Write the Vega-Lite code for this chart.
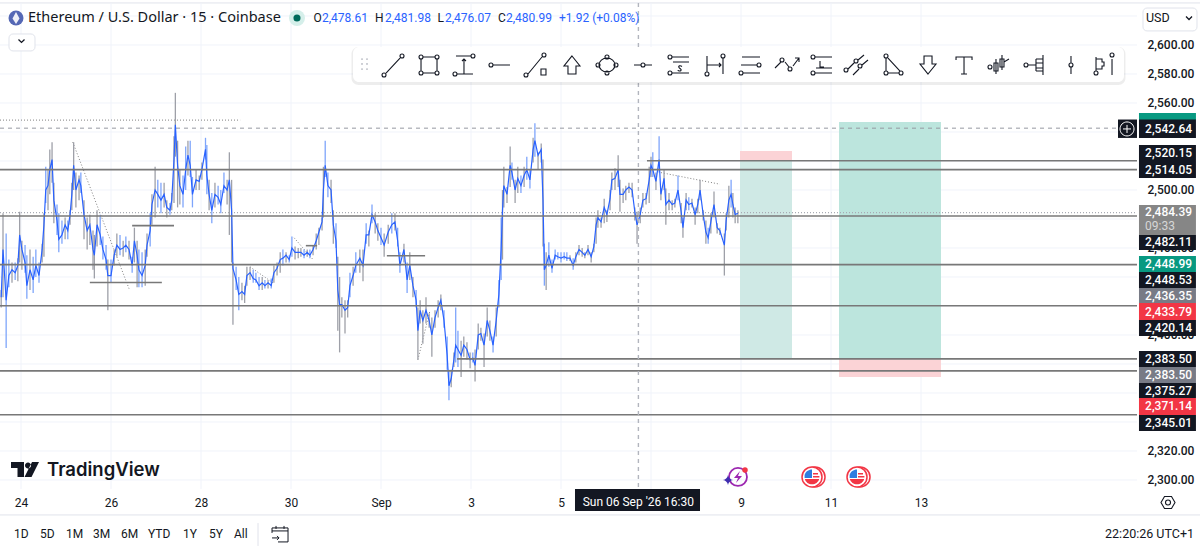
{
"$schema":"https://vega.github.io/schema/vega-lite/v6.json",
"autosize":"none",
"padding":0,
"width":1200,
"height":551,
"background":"#ffffff",
"view":{"stroke":null},
"config":{"text":{"font":"Roboto","color":"#131722"}},
"datasets":{
"candles":[
{"d":23.56,"h":2431,"l":2419,"c":2426},{"d":23.60,"h":2484,"l":2426,"c":2459},{"d":23.67,"h":2470,"l":2391,"c":2424},{"d":23.73,"h":2452,"l":2433,"c":2441},{"d":23.80,"h":2450,"l":2436,"c":2445},{"d":23.87,"h":2450,"l":2438,"c":2443},{"d":23.93,"h":2453,"l":2437,"c":2448},{"d":23.97,"h":2485,"l":2450,"c":2469},{"d":24.02,"h":2465,"l":2445,"c":2459},{"d":24.09,"h":2462,"l":2443,"c":2450},
{"d":24.13,"h":2455,"l":2425,"c":2434},{"d":24.20,"h":2459,"l":2431,"c":2445},{"d":24.27,"h":2454,"l":2429,"c":2438},{"d":24.33,"h":2459,"l":2440,"c":2448},{"d":24.40,"h":2450,"l":2436,"c":2441},{"d":24.47,"h":2463,"l":2450,"c":2459},{"d":24.51,"h":2484,"l":2454,"c":2476},{"d":24.55,"h":2516,"l":2491,"c":2500},{"d":24.60,"h":2514,"l":2486,"c":2503},{"d":24.64,"h":2528,"l":2497,"c":2514},
{"d":24.69,"h":2533,"l":2505,"c":2521},{"d":24.73,"h":2505,"l":2477,"c":2493},{"d":24.80,"h":2490,"l":2469,"c":2479},{"d":24.84,"h":2484,"l":2457,"c":2466},{"d":24.91,"h":2479,"l":2463,"c":2469},{"d":24.98,"h":2481,"l":2466,"c":2476},{"d":25.04,"h":2479,"l":2466,"c":2472},{"d":25.09,"h":2486,"l":2476,"c":2483},{"d":25.13,"h":2505,"l":2486,"c":2497},{"d":25.17,"h":2533,"l":2500,"c":2517},
{"d":25.22,"h":2512,"l":2488,"c":2500},{"d":25.29,"h":2510,"l":2493,"c":2507},{"d":25.33,"h":2512,"l":2498,"c":2503},{"d":25.40,"h":2493,"l":2466,"c":2483},{"d":25.47,"h":2481,"l":2459,"c":2472},{"d":25.53,"h":2483,"l":2462,"c":2476},{"d":25.60,"h":2472,"l":2445,"c":2459},{"d":25.63,"h":2469,"l":2439,"c":2455},{"d":25.69,"h":2486,"l":2461,"c":2476},{"d":25.76,"h":2483,"l":2462,"c":2469},
{"d":25.82,"h":2468,"l":2452,"c":2459},{"d":25.89,"h":2462,"l":2445,"c":2452},{"d":25.93,"h":2452,"l":2417,"c":2441},{"d":26.00,"h":2452,"l":2436,"c":2441},{"d":26.07,"h":2459,"l":2448,"c":2455},{"d":26.13,"h":2470,"l":2454,"c":2462},{"d":26.20,"h":2469,"l":2455,"c":2459},{"d":26.27,"h":2465,"l":2454,"c":2460},{"d":26.33,"h":2468,"l":2457,"c":2462},{"d":26.40,"h":2465,"l":2452,"c":2459},
{"d":26.47,"h":2454,"l":2443,"c":2448},{"d":26.52,"h":2474,"l":2450,"c":2465},{"d":26.58,"h":2465,"l":2433,"c":2455},{"d":26.62,"h":2459,"l":2433,"c":2445},{"d":26.69,"h":2457,"l":2433,"c":2441},{"d":26.76,"h":2459,"l":2434,"c":2448},{"d":26.80,"h":2470,"l":2454,"c":2462},{"d":26.87,"h":2484,"l":2461,"c":2472},{"d":26.91,"h":2497,"l":2476,"c":2490},{"d":26.98,"h":2516,"l":2481,"c":2500},
{"d":27.04,"h":2507,"l":2488,"c":2497},{"d":27.11,"h":2505,"l":2484,"c":2493},{"d":27.18,"h":2505,"l":2488,"c":2497},{"d":27.24,"h":2493,"l":2481,"c":2488},{"d":27.31,"h":2491,"l":2483,"c":2486},{"d":27.35,"h":2498,"l":2486,"c":2493},{"d":27.40,"h":2537,"l":2491,"c":2521},{"d":27.43,"h":2567,"l":2523,"c":2545},{"d":27.48,"h":2534,"l":2488,"c":2517},{"d":27.53,"h":2514,"l":2490,"c":2503},
{"d":27.60,"h":2510,"l":2488,"c":2497},{"d":27.66,"h":2530,"l":2500,"c":2514},{"d":27.71,"h":2534,"l":2510,"c":2524},{"d":27.76,"h":2534,"l":2509,"c":2517},{"d":27.81,"h":2509,"l":2488,"c":2497},{"d":27.89,"h":2514,"l":2500,"c":2507},{"d":27.96,"h":2510,"l":2500,"c":2506},{"d":28.02,"h":2519,"l":2507,"c":2514},{"d":28.10,"h":2536,"l":2521,"c":2528},{"d":28.13,"h":2531,"l":2497,"c":2510},
{"d":28.18,"h":2507,"l":2486,"c":2497},{"d":28.24,"h":2498,"l":2477,"c":2486},{"d":28.31,"h":2505,"l":2488,"c":2497},{"d":28.38,"h":2503,"l":2490,"c":2495},{"d":28.44,"h":2500,"l":2484,"c":2490},{"d":28.51,"h":2512,"l":2498,"c":2503},{"d":28.58,"h":2507,"l":2490,"c":2500},{"d":28.63,"h":2526,"l":2469,"c":2507},{"d":28.68,"h":2507,"l":2450,"c":2486},{"d":28.71,"h":2450,"l":2407,"c":2446},
{"d":28.78,"h":2447,"l":2431,"c":2438},{"d":28.84,"h":2440,"l":2417,"c":2428},{"d":28.91,"h":2436,"l":2424,"c":2430},{"d":28.97,"h":2434,"l":2422,"c":2428},{"d":29.02,"h":2447,"l":2434,"c":2441},{"d":29.09,"h":2447,"l":2438,"c":2443},{"d":29.16,"h":2445,"l":2436,"c":2439},{"d":29.22,"h":2443,"l":2436,"c":2438},{"d":29.29,"h":2440,"l":2431,"c":2434},{"d":29.36,"h":2440,"l":2431,"c":2436},
{"d":29.42,"h":2438,"l":2432,"c":2434},{"d":29.49,"h":2438,"l":2432,"c":2436},{"d":29.56,"h":2439,"l":2432,"c":2434},{"d":29.62,"h":2448,"l":2436,"c":2443},{"d":29.69,"h":2450,"l":2441,"c":2446},{"d":29.76,"h":2457,"l":2443,"c":2452},{"d":29.82,"h":2459,"l":2448,"c":2453},{"d":29.89,"h":2457,"l":2450,"c":2455},{"d":29.96,"h":2455,"l":2450,"c":2452},{"d":30.02,"h":2468,"l":2454,"c":2460},
{"d":30.09,"h":2461,"l":2452,"c":2457},{"d":30.16,"h":2460,"l":2453,"c":2457},{"d":30.22,"h":2460,"l":2454,"c":2457},{"d":30.29,"h":2459,"l":2453,"c":2455},{"d":30.36,"h":2459,"l":2454,"c":2457},{"d":30.42,"h":2459,"l":2453,"c":2455},{"d":30.49,"h":2462,"l":2455,"c":2459},{"d":30.56,"h":2470,"l":2459,"c":2465},{"d":30.62,"h":2474,"l":2462,"c":2471},{"d":30.69,"h":2481,"l":2472,"c":2478},
{"d":30.72,"h":2516,"l":2481,"c":2500},{"d":30.76,"h":2534,"l":2509,"c":2517},{"d":30.82,"h":2512,"l":2495,"c":2503},{"d":30.89,"h":2507,"l":2491,"c":2500},{"d":30.94,"h":2486,"l":2463,"c":2476},{"d":31.00,"h":2477,"l":2460,"c":2465},{"d":31.04,"h":2454,"l":2403,"c":2431},{"d":31.08,"h":2440,"l":2388,"c":2421},{"d":31.13,"h":2426,"l":2412,"c":2421},{"d":31.20,"h":2424,"l":2401,"c":2417},
{"d":31.26,"h":2424,"l":2412,"c":2419},{"d":31.31,"h":2443,"l":2426,"c":2434},{"d":31.38,"h":2447,"l":2434,"c":2441},{"d":31.44,"h":2457,"l":2443,"c":2448},{"d":31.53,"h":2459,"l":2443,"c":2453},{"d":31.60,"h":2459,"l":2437,"c":2448},{"d":31.67,"h":2477,"l":2463,"c":2469},{"d":31.73,"h":2472,"l":2461,"c":2469},{"d":31.80,"h":2490,"l":2477,"c":2483},{"d":31.87,"h":2484,"l":2470,"c":2478},
{"d":31.93,"h":2477,"l":2465,"c":2472},{"d":32.00,"h":2474,"l":2462,"c":2467},{"d":32.07,"h":2470,"l":2454,"c":2462},{"d":32.16,"h":2476,"l":2463,"c":2471},{"d":32.24,"h":2484,"l":2470,"c":2476},{"d":32.31,"h":2484,"l":2472,"c":2478},{"d":32.37,"h":2474,"l":2461,"c":2465},{"d":32.42,"h":2457,"l":2443,"c":2448},{"d":32.51,"h":2463,"l":2450,"c":2459},{"d":32.58,"h":2450,"l":2429,"c":2438},
{"d":32.64,"h":2457,"l":2438,"c":2448},{"d":32.71,"h":2440,"l":2426,"c":2434},{"d":32.78,"h":2431,"l":2419,"c":2424},{"d":32.82,"h":2419,"l":2383,"c":2403},{"d":32.87,"h":2424,"l":2408,"c":2417},{"d":32.93,"h":2417,"l":2394,"c":2410},{"d":33.00,"h":2426,"l":2408,"c":2417},{"d":33.07,"h":2415,"l":2405,"c":2410},{"d":33.13,"h":2412,"l":2385,"c":2400},{"d":33.20,"h":2417,"l":2405,"c":2412},
{"d":33.27,"h":2424,"l":2412,"c":2419},{"d":33.33,"h":2428,"l":2417,"c":2424},{"d":33.40,"h":2417,"l":2405,"c":2410},{"d":33.47,"h":2399,"l":2376,"c":2386},{"d":33.51,"h":2376,"l":2355,"c":2365},{"d":33.56,"h":2376,"l":2364,"c":2370},{"d":33.62,"h":2388,"l":2378,"c":2383},{"d":33.66,"h":2419,"l":2381,"c":2393},{"d":33.71,"h":2403,"l":2378,"c":2390},{"d":33.78,"h":2396,"l":2371,"c":2386},
{"d":33.84,"h":2399,"l":2385,"c":2393},{"d":33.91,"h":2395,"l":2383,"c":2390},{"d":33.98,"h":2388,"l":2377,"c":2383},{"d":34.04,"h":2388,"l":2381,"c":2384},{"d":34.09,"h":2390,"l":2368,"c":2379},{"d":34.16,"h":2408,"l":2390,"c":2400},{"d":34.22,"h":2405,"l":2396,"c":2401},{"d":34.29,"h":2401,"l":2378,"c":2393},{"d":34.36,"h":2419,"l":2399,"c":2410},{"d":34.42,"h":2410,"l":2396,"c":2403},
{"d":34.49,"h":2399,"l":2388,"c":2393},{"d":34.56,"h":2419,"l":2399,"c":2410},{"d":34.62,"h":2438,"l":2419,"c":2428},{"d":34.67,"h":2481,"l":2438,"c":2459},{"d":34.70,"h":2500,"l":2452,"c":2486},{"d":34.73,"h":2516,"l":2488,"c":2503},{"d":34.80,"h":2502,"l":2491,"c":2497},{"d":34.87,"h":2530,"l":2502,"c":2517},{"d":34.91,"h":2519,"l":2507,"c":2512},{"d":34.98,"h":2507,"l":2491,"c":2500},
{"d":35.04,"h":2516,"l":2498,"c":2508},{"d":35.11,"h":2510,"l":2498,"c":2503},{"d":35.18,"h":2516,"l":2502,"c":2510},{"d":35.24,"h":2523,"l":2507,"c":2514},{"d":35.31,"h":2514,"l":2501,"c":2507},{"d":35.38,"h":2536,"l":2519,"c":2528},{"d":35.42,"h":2546,"l":2523,"c":2534},{"d":35.49,"h":2526,"l":2514,"c":2524},{"d":35.56,"h":2532,"l":2519,"c":2528},{"d":35.60,"h":2521,"l":2461,"c":2493},
{"d":35.63,"h":2463,"l":2434,"c":2445},{"d":35.67,"h":2457,"l":2431,"c":2448},{"d":35.73,"h":2464,"l":2447,"c":2455},{"d":35.80,"h":2452,"l":2443,"c":2446},{"d":35.87,"h":2459,"l":2452,"c":2455},{"d":35.93,"h":2457,"l":2452,"c":2454},{"d":36.00,"h":2457,"l":2450,"c":2453},{"d":36.07,"h":2457,"l":2452,"c":2454},{"d":36.13,"h":2457,"l":2451,"c":2453},{"d":36.20,"h":2455,"l":2451,"c":2453},
{"d":36.27,"h":2453,"l":2445,"c":2448},{"d":36.33,"h":2457,"l":2450,"c":2454},{"d":36.40,"h":2462,"l":2455,"c":2459},{"d":36.47,"h":2460,"l":2454,"c":2457},{"d":36.53,"h":2457,"l":2453,"c":2455},{"d":36.60,"h":2462,"l":2455,"c":2459},{"d":36.67,"h":2457,"l":2450,"c":2454},{"d":36.73,"h":2463,"l":2457,"c":2461},{"d":36.78,"h":2481,"l":2463,"c":2476},{"d":36.82,"h":2486,"l":2474,"c":2481},
{"d":36.89,"h":2481,"l":2474,"c":2478},{"d":36.96,"h":2494,"l":2477,"c":2488},{"d":37.02,"h":2486,"l":2478,"c":2483},{"d":37.09,"h":2500,"l":2486,"c":2494},{"d":37.13,"h":2512,"l":2500,"c":2507},{"d":37.20,"h":2515,"l":2500,"c":2508},{"d":37.27,"h":2524,"l":2502,"c":2514},{"d":37.31,"h":2507,"l":2485,"c":2497},{"d":37.38,"h":2501,"l":2491,"c":2497},{"d":37.44,"h":2503,"l":2493,"c":2500},
{"d":37.51,"h":2505,"l":2498,"c":2502},{"d":37.58,"h":2505,"l":2495,"c":2500},{"d":37.64,"h":2488,"l":2479,"c":2485},{"d":37.69,"h":2485,"l":2463,"c":2476},{"d":37.76,"h":2488,"l":2477,"c":2483},{"d":37.82,"h":2498,"l":2488,"c":2493},{"d":37.89,"h":2498,"l":2490,"c":2494},{"d":37.96,"h":2516,"l":2491,"c":2507},{"d":38.00,"h":2523,"l":2509,"c":2517},{"d":38.04,"h":2526,"l":2509,"c":2514},
{"d":38.11,"h":2512,"l":2500,"c":2506},{"d":38.18,"h":2537,"l":2512,"c":2521},{"d":38.22,"h":2501,"l":2493,"c":2497},{"d":38.29,"h":2514,"l":2500,"c":2508},{"d":38.33,"h":2501,"l":2476,"c":2490},{"d":38.40,"h":2498,"l":2486,"c":2493},{"d":38.47,"h":2493,"l":2486,"c":2490},{"d":38.53,"h":2494,"l":2488,"c":2491},{"d":38.60,"h":2510,"l":2493,"c":2500},{"d":38.67,"h":2491,"l":2477,"c":2485},
{"d":38.71,"h":2481,"l":2467,"c":2474},{"d":38.78,"h":2498,"l":2486,"c":2493},{"d":38.84,"h":2495,"l":2486,"c":2490},{"d":38.91,"h":2494,"l":2488,"c":2491},{"d":38.98,"h":2488,"l":2476,"c":2483},{"d":39.04,"h":2494,"l":2484,"c":2490},{"d":39.09,"h":2507,"l":2493,"c":2500},{"d":39.16,"h":2486,"l":2479,"c":2483},{"d":39.22,"h":2479,"l":2463,"c":2471},{"d":39.27,"h":2474,"l":2463,"c":2467},
{"d":39.33,"h":2484,"l":2470,"c":2478},{"d":39.40,"h":2499,"l":2481,"c":2490},{"d":39.47,"h":2477,"l":2470,"c":2474},{"d":39.53,"h":2474,"l":2469,"c":2472},{"d":39.63,"h":2470,"l":2441,"c":2462},{"d":39.67,"h":2484,"l":2472,"c":2479},{"d":39.73,"h":2503,"l":2481,"c":2493},{"d":39.78,"h":2507,"l":2488,"c":2497},{"d":39.82,"h":2498,"l":2481,"c":2490},{"d":39.87,"h":2488,"l":2477,"c":2483},{"d":39.93,"h":2486,"l":2477,"c":2484}
],
"frame":[{"p":2629,"d":23.5333,"d2":50.2},{"p":2275.9,"d":23.5333,"d2":50.2}],
"hgrid":[{"p":2620,"d":23.5333,"d2":48.8},{"p":2600,"d":23.5333,"d2":48.8},{"p":2580,"d":23.5333,"d2":48.8},{"p":2560,"d":23.5333,"d2":48.8},{"p":2540,"d":23.5333,"d2":48.8},{"p":2520,"d":23.5333,"d2":48.8},{"p":2500,"d":23.5333,"d2":48.8},{"p":2480,"d":23.5333,"d2":48.8},{"p":2460,"d":23.5333,"d2":48.8},{"p":2440,"d":23.5333,"d2":48.8},{"p":2420,"d":23.5333,"d2":48.8},{"p":2400,"d":23.5333,"d2":48.8},{"p":2380,"d":23.5333,"d2":48.8},{"p":2360,"d":23.5333,"d2":48.8},{"p":2340,"d":23.5333,"d2":48.8},{"p":2320,"d":23.5333,"d2":48.8},{"p":2300,"d":23.5333,"d2":48.8}],
"vgrid":[{"d":24,"p":2629,"p2":2293.8},{"d":26,"p":2629,"p2":2293.8},{"d":28,"p":2629,"p2":2293.8},{"d":30,"p":2629,"p2":2293.8},{"d":32,"p":2629,"p2":2293.8},{"d":34,"p":2629,"p2":2293.8},{"d":36,"p":2629,"p2":2293.8},{"d":38,"p":2629,"p2":2293.8},{"d":40,"p":2629,"p2":2293.8},{"d":42,"p":2629,"p2":2293.8},{"d":44,"p":2629,"p2":2293.8}],
"levels":[
{"p":2514.05,"d":23.5333,"d2":48.8},{"p":2482.11,"d":23.5333,"d2":48.8},{"p":2448.53,"d":23.5333,"d2":48.8},{"p":2420.14,"d":23.5333,"d2":48.8},{"p":2375.27,"d":23.5333,"d2":48.8},{"p":2345.01,"d":23.5333,"d2":48.8},
{"p":2520.15,"d":37.91,"d2":48.8},{"p":2383.5,"d":33.69,"d2":48.8},
{"p":2436.2,"d":25.53,"d2":27.13},{"p":2475.4,"d":26.47,"d2":27.4},{"p":2454.7,"d":32.13,"d2":32.98},{"p":2461.6,"d":30.33,"d2":30.58}
],
"positions":[
{"kind":"posA","d":39.978,"d2":41.133,"p":2520,"p2":2383.5},{"kind":"stop","d":39.978,"d2":41.133,"p":2526.9,"p2":2520},
{"kind":"posB","d":42.178,"d2":44.444,"p":2546.9,"p2":2383.5},{"kind":"stop","d":42.178,"d2":44.444,"p":2383.5,"p2":2371}
],
"trends":[
{"id":"a","d":25.15,"p":2533},{"id":"a","d":26.4,"p":2432},
{"id":"b","d":30.07,"p":2467},{"id":"b","d":30.49,"p":2452},
{"id":"c","d":29.09,"p":2447},{"id":"c","d":29.6,"p":2436},
{"id":"d","d":32.82,"p":2383},{"id":"d","d":33.09,"p":2417},
{"id":"e","d":38.22,"p":2512},{"id":"e","d":39.53,"p":2504}
],
"labels":[
{"kind":"green","d":48.844,"d2":50.11,"p":2553.1,"p2":2548.3},
{"kind":"black","d":48.844,"d2":50.11,"p":2548.6,"p2":2535.9},
{"kind":"black","d":48.844,"d2":50.11,"p":2531,"p2":2519.3},
{"kind":"black","d":48.844,"d2":50.11,"p":2519.3,"p2":2508.3},
{"kind":"dim","d":48.844,"d2":50.11,"p":2489.7,"p2":2469},
{"kind":"black","d":48.844,"d2":50.11,"p":2469,"p2":2458.6},
{"kind":"green","d":48.844,"d2":50.11,"p":2454.5,"p2":2443.4},
{"kind":"black","d":48.844,"d2":50.11,"p":2443.4,"p2":2432.4},
{"kind":"gray","d":48.844,"d2":50.11,"p":2432.4,"p2":2422.1},
{"kind":"red","d":48.844,"d2":50.11,"p":2422.1,"p2":2410.3},
{"kind":"black","d":48.844,"d2":50.11,"p":2410.3,"p2":2399.3},
{"kind":"black","d":48.844,"d2":50.11,"p":2389,"p2":2377.9},
{"kind":"gray","d":48.844,"d2":50.11,"p":2377.9,"p2":2366.9},
{"kind":"black","d":48.844,"d2":50.11,"p":2366.9,"p2":2356.6},
{"kind":"red","d":48.844,"d2":50.11,"p":2356.6,"p2":2344.8},
{"kind":"black","d":48.844,"d2":50.11,"p":2344.8,"p2":2333.8}
],
"labelTexts":[
{"d":48.98,"p":2542.3,"t":"2,542.64"},{"d":48.98,"p":2525.2,"t":"2,520.15"},{"d":48.98,"p":2513.8,"t":"2,514.05"},{"d":48.98,"p":2484.8,"t":"2,484.39"},{"d":48.98,"p":2463.8,"t":"2,482.11"},{"d":48.98,"p":2449,"t":"2,448.99"},{"d":48.98,"p":2437.9,"t":"2,448.53"},{"d":48.98,"p":2427.2,"t":"2,436.35"},{"d":48.98,"p":2416.2,"t":"2,433.79"},{"d":48.98,"p":2404.8,"t":"2,420.14"},{"d":48.98,"p":2383.4,"t":"2,383.50"},{"d":48.98,"p":2372.4,"t":"2,383.50"},{"d":48.98,"p":2361.7,"t":"2,375.27"},{"d":48.98,"p":2350.7,"t":"2,371.14"},{"d":48.98,"p":2339.3,"t":"2,345.01"}
],
"icons":[
{"icon":"trend","d":32.267,"p":2586.2},{"icon":"square","d":33.067,"p":2586.2},{"icon":"measure","d":33.844,"p":2586.2},{"icon":"ray","d":34.644,"p":2586.2},{"icon":"boxline","d":35.444,"p":2586.2},{"icon":"up","d":36.244,"p":2586.2},{"icon":"ellipse","d":37.022,"p":2586.2},{"icon":"dot","d":37.822,"p":2586.2},{"icon":"sline","d":38.622,"p":2586.2},{"icon":"harrow","d":39.422,"p":2586.2},{"icon":"three","d":40.2,"p":2586.2},{"icon":"zigzag","d":41.0,"p":2586.2},{"icon":"lline","d":41.8,"p":2586.2},{"icon":"double","d":42.578,"p":2586.2},{"icon":"triangle","d":43.378,"p":2586.2},{"icon":"down","d":44.156,"p":2586.2},{"icon":"serif","d":44.956,"p":2586.2},{"icon":"candles","d":45.733,"p":2586.2},{"icon":"book","d":46.533,"p":2586.2},{"icon":"vert","d":47.333,"p":2586.2},{"icon":"bars","d":48.067,"p":2586.2}
],
"ohlcKeys":[{"t":"O","d":30.5,"p":2618.6},{"t":"H","d":31.867,"p":2618.6},{"t":"L","d":33.256,"p":2618.6},{"t":"C","d":34.6,"p":2618.6}],
"ohlcVals":[{"t":"2,478.61","d":30.689,"p":2618.6},{"t":"2,481.98","d":32.089,"p":2618.6},{"t":"2,476.07","d":33.422,"p":2618.6},{"t":"2,480.99","d":34.778,"p":2618.6},{"t":"+1.92 (+0.08%)","d":35.956,"p":2618.6}],
"ranges":[{"t":"1D","d":23.844,"p":2262.8},{"t":"5D","d":24.422,"p":2262.8},{"t":"1M","d":25.0,"p":2262.8},{"t":"3M","d":25.6,"p":2262.8},{"t":"6M","d":26.222,"p":2262.8},{"t":"YTD","d":26.822,"p":2262.8},{"t":"1Y","d":27.6,"p":2262.8},{"t":"5Y","d":28.178,"p":2262.8},{"t":"All","d":28.733,"p":2262.8}]
},
"encoding":{
"x":{"field":"d","type":"quantitative","title":null,"scale":{"domain":[23.5333,50.2],"nice":false,"zero":false},
"axis":{"orient":"bottom","offset":-54,"values":[24,26,28,30,32,34,36,40,42,44],"labelExpr":"datum.value==32?'Sep':datum.value>32?''+(datum.value-31):''+datum.value","grid":false,"ticks":false,"domain":false,"labelPadding":0,"labelFont":"Roboto","labelFontSize":12,"labelColor":"#131722","labelFlush":false,"labelOverlap":false}},
"y":{"field":"p","type":"quantitative","title":null,"scale":{"domain":[2251.03,2631.03],"nice":false,"zero":false},
"axis":{"orient":"right","offset":-53,"values":[2300,2320,2400,2460,2500,2560,2580,2600],"format":",.2f","grid":false,"ticks":false,"domain":false,"labelPadding":0,"labelFont":"Roboto","labelFontSize":12,"labelFontWeight":500,"labelColor":"#131722","labelFlush":false,"labelOverlap":false}}
},
"layer":[
{"data":{"name":"frame"},"mark":{"type":"rule","color":"#e0e3eb","strokeWidth":1},"encoding":{"x2":{"field":"d2"}}},
{"data":{"name":"hgrid"},"mark":{"type":"rule","color":"#f0f3fa","strokeWidth":1},"encoding":{"x2":{"field":"d2"}}},
{"data":{"name":"vgrid"},"mark":{"type":"rule","color":"#f0f3fa","strokeWidth":1},"encoding":{"y2":{"field":"p2"}}},
{"data":{"name":"positions"},"mark":{"type":"rect"},"encoding":{"x2":{"field":"d2"},"y2":{"field":"p2"},"color":{"field":"kind","type":"nominal","legend":null,"scale":{"domain":["black","gray","dim","green","red","posA","posB","stop"],"range":["#131722","#787b86","#868686","#089981","#f23645","#cfe9e5","#bce5dd","#fbd3d6"]}}}},
{"data":{"values":[{"p":2542.64,"d":23.5333,"d2":48.8}]},"mark":{"type":"rule","color":"#9598a1","strokeWidth":1,"strokeDash":[4,4]},"encoding":{"x2":{"field":"d2"}}},
{"data":{"values":[{"p":2484.39,"d":23.5333,"d2":48.8}]},"mark":{"type":"rule","color":"#a8abb5","strokeWidth":1.2,"strokeDash":[1,2]},"encoding":{"x2":{"field":"d2"}}},
{"data":{"values":[{"p":2548.2,"d":23.5333,"d2":28.87}]},"mark":{"type":"rule","color":"#808080","strokeWidth":1,"strokeDash":[1,2]},"encoding":{"x2":{"field":"d2"}}},
{"data":{"name":"trends"},"mark":{"type":"line","color":"#808080","strokeWidth":1,"strokeDash":[1,2]},"encoding":{"detail":{"field":"id"}}},
{"data":{"name":"candles"},"mark":{"type":"rule","strokeWidth":1.3},"encoding":{"y":{"field":"l","type":"quantitative","title":null},"y2":{"field":"h"},"color":{"condition":{"test":"datum.c >= (datum.l+datum.h)/2","value":"#9ea0a8"},"value":"#7ea5fb"}}},
{"data":{"name":"candles"},"mark":{"type":"line","color":"#2962ff","strokeWidth":1.2},"encoding":{"y":{"field":"c","type":"quantitative","title":null}}},
{"data":{"name":"levels"},"mark":{"type":"rule","color":"#787878","strokeWidth":1.6},"encoding":{"x2":{"field":"d2"}}},
{"data":{"values":[{"d":37.72,"p":2629,"p2":2293.8}]},"mark":{"type":"rule","color":"#b2b5be","strokeWidth":1.4,"strokeDash":[4,4]},"encoding":{"y2":{"field":"p2"}}},
{"data":{"values":[{"d":31.344,"d2":48.544,"p":2598.6,"p2":2572.4}]},"mark":{"type":"rect","color":"#000000","opacity":0.07,"cornerRadius":7},"encoding":{"x2":{"field":"d2"},"y2":{"field":"p2"}}},
{"data":{"values":[{"d":31.378,"d2":48.511,"p":2598.6,"p2":2574.5}]},"mark":{"type":"rect","color":"#ffffff","cornerRadius":6},"encoding":{"x2":{"field":"d2"},"y2":{"field":"p2"}}},
{"data":{"values":[{"d":31.578,"p":2590.3},{"d":31.689,"p":2590.3},{"d":31.578,"p":2586.9},{"d":31.689,"p":2586.9},{"d":31.578,"p":2583.4},{"d":31.689,"p":2583.4}]},"mark":{"type":"point","filled":true,"color":"#b2b5be","size":3,"opacity":1}},
{"data":{"name":"icons"},"mark":{"type":"point","filled":false,"color":"#131722","strokeWidth":1.1,"size":4,"opacity":1},"encoding":{"shape":{"field":"icon","type":"nominal","legend":null,"scale":{
"domain":["trend","square","measure","ray","boxline","up","ellipse","dot","sline","harrow","three","zigzag","lline","double","triangle","down","serif","candles","book","vert","bars"],
"range":[
"M-7,8L7,-7M-11,10a2,2 0 1,0 4,0a2,2 0 1,0 -4,0M7,-9a2,2 0 1,0 4,0a2,2 0 1,0 -4,0",
"M-6,-8H6M-6,8H6M-8,-6V6M8,-6V6M-10,-8a2,2 0 1,0 4,0a2,2 0 1,0 -4,0M6,-8a2,2 0 1,0 4,0a2,2 0 1,0 -4,0M-10,8a2,2 0 1,0 4,0a2,2 0 1,0 -4,0M6,8a2,2 0 1,0 4,0a2,2 0 1,0 -4,0",
"M-8,-9H7M-7,9H9M0,9V-6M-2,-4L0,-6L2,-4M7,-9a2,2 0 1,0 4,0a2,2 0 1,0 -4,0M-11,9a2,2 0 1,0 4,0a2,2 0 1,0 -4,0",
"M-7,0H10M-11,0a2,2 0 1,0 4,0a2,2 0 1,0 -4,0",
"M-8,9L6,-8M-12,10a2,2 0 1,0 4,0a2,2 0 1,0 -4,0M6,-10a2,2 0 1,0 4,0a2,2 0 1,0 -4,0M5,4H10V10H5Z",
"M0,-9L8,1H4V9H-4V1H-8Z",
"M-8,0A8,7 0 0 1 8,0A8,7 0 0 1 -8,0M-11,0a2,2 0 1,0 4,0a2,2 0 1,0 -4,0M7,0a2,2 0 1,0 4,0a2,2 0 1,0 -4,0M-2,-8a2,2 0 1,0 4,0a2,2 0 1,0 -4,0M-2,8a2,2 0 1,0 4,0a2,2 0 1,0 -4,0",
"M-9,0H-2M2,0H9M-2,0a2,2 0 1,0 4,0a2,2 0 1,0 -4,0",
"M-7,-8H10M-7,8H10M-6,-3H10M-11,-8a2,2 0 1,0 4,0a2,2 0 1,0 -4,0M-11,8a2,2 0 1,0 4,0a2,2 0 1,0 -4,0M3,1.5C1,0 -1,1 0,2.5C1,4 3,4 2,5.5C1,6.5 -1,6 -1,5",
"M-8,-9V7M8,-7V9M-8,0H6M4,-2L6,0L4,2M-10,9a2,2 0 1,0 4,0a2,2 0 1,0 -4,0M6,-9a2,2 0 1,0 4,0a2,2 0 1,0 -4,0",
"M-8,-8H10M-9,0H7M-7,8H10M7,0a2,2 0 1,0 4,0a2,2 0 1,0 -4,0M-11,8a2,2 0 1,0 4,0a2,2 0 1,0 -4,0",
"M-11,3L-5,-3M-1,-3L3,2M7,1L13,-7M9,-7H13V-3M-6,-5a2,2 0 1,0 4,0a2,2 0 1,0 -4,0M2,4a2,2 0 1,0 4,0a2,2 0 1,0 -4,0",
"M-7,-8H10M-7,8H10M-6,3H10M-2,-4V2H2M-11,-8a2,2 0 1,0 4,0a2,2 0 1,0 -4,0M-11,8a2,2 0 1,0 4,0a2,2 0 1,0 -4,0",
"M-9,4L-3,-2M1,-5L7,-10M-4,10L2,4M5,0L11,-5M-13,5a2,2 0 1,0 4,0a2,2 0 1,0 -4,0M-3,-4a2,2 0 1,0 4,0a2,2 0 1,0 -4,0M1,1a2,2 0 1,0 4,0a2,2 0 1,0 -4,0",
"M-7,-7V6M-5,8H6M-5,-7L7,6M-9,-9a2,2 0 1,0 4,0a2,2 0 1,0 -4,0M-9,8a2,2 0 1,0 4,0a2,2 0 1,0 -4,0M6,8a2,2 0 1,0 4,0a2,2 0 1,0 -4,0",
"M0,9L8,-1H4V-9H-4V-1H-8Z",
"M-8,-5V-8H8V-5M0,-8V9M-3,9H3",
"M-3,-6V9M3,-10V5M-5,-2H-1V6H-5ZM1,-6H5V2H1ZM5,-3L10,-6M-11,2a2,2 0 1,0 4,0a2,2 0 1,0 -4,0",
"M8,-10V10M-7,0H1M1,-6H8M1,-2H8M1,3H8M1,6H8M1,-6V6M-11,0a2,2 0 1,0 4,0a2,2 0 1,0 -4,0",
"M0,-9V-2M0,2V9M-2,0a2,2 0 1,0 4,0a2,2 0 1,0 -4,0",
"M-8,-8V6M-8,-6H-2V-3H0V1H-2V4H-8M8,-6V10M-10,8a2,2 0 1,0 4,0a2,2 0 1,0 -4,0M6,-10a2,2 0 1,0 4,0a2,2 0 1,0 -4,0"
]}}}},
{"data":{"values":[{"d":23.889,"p":2618.6}]},"mark":{"type":"point","filled":true,"color":"#5568b5","size":225,"shape":"circle","opacity":1}},
{"data":{"values":[{"d":23.889,"p":2618.6}]},"mark":{"type":"point","filled":true,"color":"#ffffff","size":4,"opacity":0.9,"shape":"M0,-6L3.5,0.5L0,6L-3.5,0.5Z"}},
{"data":{"values":[{"d":30.133,"p":2618.6}]},"mark":{"type":"point","filled":true,"color":"#d5efea","size":256,"shape":"circle","opacity":1}},
{"data":{"values":[{"d":30.133,"p":2618.6}]},"mark":{"type":"point","filled":true,"color":"#006b5b","size":50,"shape":"circle","opacity":1}},
{"data":{"values":[{"t":"Ethereum / U.S. Dollar · 15 · Coinbase","d":24.156,"p":2618.6}]},"mark":{"type":"text","align":"left","baseline":"middle","fontSize":14.5,"font":"Noto Sans"},"encoding":{"text":{"field":"t"}}},
{"data":{"name":"ohlcKeys"},"mark":{"type":"text","align":"left","baseline":"middle","fontSize":12,"font":"Roboto"},"encoding":{"text":{"field":"t"}}},
{"data":{"name":"ohlcVals"},"mark":{"type":"text","align":"left","baseline":"middle","fontSize":12,"font":"Roboto","color":"#2962ff"},"encoding":{"text":{"field":"t"}}},
{"data":{"values":[{"d":23.733,"d2":24.311,"p":2607.6,"p2":2595.9}]},"mark":{"type":"rect","fill":"#ffffff","stroke":"#e0e3eb","cornerRadius":4},"encoding":{"x2":{"field":"d2"},"y2":{"field":"p2"}}},
{"data":{"values":[{"d":48.933,"d2":50.133,"p":2625.5,"p2":2609.7}]},"mark":{"type":"rect","fill":"#ffffff","stroke":"#e0e3eb","cornerRadius":4},"encoding":{"x2":{"field":"d2"},"y2":{"field":"p2"}}},
{"data":{"values":[{"d":24.011,"p":2602.8},{"d":49.956,"p":2618.6}]},"mark":{"type":"point","filled":false,"color":"#131722","strokeWidth":1.3,"size":4,"opacity":1,"shape":"M-3,-1.5L0,1.5L3,-1.5"}},
{"data":{"values":[{"t":"USD","d":49.0,"p":2618.6}]},"mark":{"type":"text","align":"left","baseline":"middle","fontSize":12.5},"encoding":{"text":{"field":"t"}}},
{"data":{"name":"labels"},"mark":{"type":"rect"},"encoding":{"x2":{"field":"d2"},"y2":{"field":"p2"},"color":{"field":"kind","type":"nominal","legend":null,"scale":{"domain":["black","gray","dim","green","red","posA","posB","stop"],"range":["#131722","#787b86","#868686","#089981","#f23645","#cfe9e5","#bce5dd","#fbd3d6"]}}}},
{"data":{"name":"labelTexts"},"mark":{"type":"text","align":"left","baseline":"middle","fontSize":12,"fontWeight":500,"color":"#ffffff"},"encoding":{"text":{"field":"t"}}},
{"data":{"values":[{"t":"09:33","d":48.98,"p":2475.2}]},"mark":{"type":"text","align":"left","baseline":"middle","fontSize":12,"color":"#d6d6d6"},"encoding":{"text":{"field":"t"}}},
{"data":{"values":[{"d":48.378,"d2":48.8,"p":2548.6,"p2":2535.9}]},"mark":{"type":"rect","color":"#131722"},"encoding":{"x2":{"field":"d2"},"y2":{"field":"p2"}}},
{"data":{"values":[{"d":48.578,"p":2542.1}]},"mark":{"type":"point","filled":false,"color":"#ffffff","strokeWidth":1,"size":4,"opacity":1,"shape":"M-7,0a7,7 0 1,0 14,0a7,7 0 1,0 -14,0M-4,0H4M0,-4V4"}},
{"data":{"values":[{"d":36.311,"d2":39.089,"p":2293.8,"p2":2278.6}]},"mark":{"type":"rect","color":"#131722"},"encoding":{"x2":{"field":"d2"},"y2":{"field":"p2"}}},
{"data":{"values":[{"t":"Sun 06 Sep '26","d":36.482,"p":2284.5},{"t":"16:30","d":38.289,"p":2284.5}]},"mark":{"type":"text","align":"left","baseline":"middle","fontSize":12,"color":"#ffffff"},"encoding":{"text":{"field":"t"}}},
{"data":{"values":[{"d":24.089,"p":2307.2}]},"mark":{"type":"point","filled":true,"color":"#131722","size":4,"opacity":1,"shape":"M-14,-7.5H-1V7.5H-7.5V-1.5H-14ZM6,-4a3,3 0 1,0 -6,0a3,3 0 1,0 6,0ZM14,-7.5L6.5,7.5H-0.5L7,-7.5Z"}},
{"data":{"values":[{"t":"TradingView","d":24.578,"p":2307.2}]},"mark":{"type":"text","align":"left","baseline":"middle","fontSize":18.5,"fontWeight":600,"font":"Inter"},"encoding":{"text":{"field":"t"}}},
{"data":{"name":"ranges"},"mark":{"type":"text","align":"left","baseline":"middle","fontSize":12},"encoding":{"text":{"field":"t"}}},
{"data":{"values":[{"t":"22:20:26 UTC+1","d":50.067,"p":2262.8}]},"mark":{"type":"text","align":"right","baseline":"middle","fontSize":12.5},"encoding":{"text":{"field":"t"}}},
{"data":{"values":[{"d":29.267,"p":2270.3,"p2":2254.5}]},"mark":{"type":"rule","color":"#e0e3eb"},"encoding":{"y2":{"field":"p2"}}},
{"data":{"values":[{"d":29.756,"p":2262.8}]},"mark":{"type":"point","filled":false,"color":"#131722","strokeWidth":1,"size":4,"opacity":1,"shape":"M-8,-1V-6H8V8H-2M-8,-3H8M-4,-8V-5M4,-8V-5M-8,4H-1M-3,2L-1,4L-3,6"}},
{"data":{"values":[{"d":49.489,"p":2284.5}]},"mark":{"type":"point","filled":false,"color":"#131722","strokeWidth":1.1,"size":4,"opacity":1,"shape":"M-7,0L-3.5,-6H3.5L7,0L3.5,6H-3.5ZM-2.5,0a2.5,2.5 0 1,0 5,0a2.5,2.5 0 1,0 -5,0"}},
{"data":{"values":[{"d":39.933,"p":2302.1}]},"mark":{"type":"point","filled":false,"color":"#9c27b0","strokeWidth":1.8,"size":324,"shape":"circle","opacity":1}},
{"data":{"values":[{"d":39.933,"p":2302.1}]},"mark":{"type":"point","filled":true,"color":"#9c27b0","size":4,"opacity":1,"shape":"M2,-6L-4,1H0L-2,6L4,-1H0Z"}},
{"data":{"values":[{"d":40.089,"p":2306.9}]},"mark":{"type":"point","filled":true,"color":"#f23645","size":30,"shape":"circle","opacity":1}},
{"data":{"values":[{"d":39.711,"p":2300}]},"mark":{"type":"point","filled":true,"color":"#3f2db0","size":4,"opacity":1,"shape":"M0,-5Q0.8,-0.8 5,0Q0.8,0.8 0,5Q-0.8,0.8 -5,0Q-0.8,-0.8 0,-5Z"}},
{"data":{"values":[{"d":41.645,"p":2302.1},{"d":42.645,"p":2302.1}]},"mark":{"type":"point","filled":false,"color":"#f23645","strokeWidth":1.5,"size":400,"shape":"circle","opacity":1}},
{"data":{"values":[{"d":41.578,"p":2302.1},{"d":42.578,"p":2302.1}]},"mark":{"type":"point","filled":true,"fill":"#ffffff","stroke":"#f23645","strokeWidth":1.5,"size":400,"shape":"circle","opacity":1}},
{"data":{"values":[{"d":41.578,"p":2302.1},{"d":42.578,"p":2302.1}]},"mark":{"type":"point","filled":true,"color":"#f23645","size":4,"opacity":1,"shape":"M-7.2,2H7.2A7.5,7.5 0 0 1 -7.2,2ZM1,-4H6V-2.4H1ZM1,-1H7.4V0.6H1Z"}},
{"data":{"values":[{"d":41.578,"p":2302.1},{"d":42.578,"p":2302.1}]},"mark":{"type":"point","filled":true,"color":"#2f7de0","size":4,"opacity":1,"shape":"M-7.4,1V-2A7.5,7.5 0 0 1 0,-7.5V1Z"}}
]
}
